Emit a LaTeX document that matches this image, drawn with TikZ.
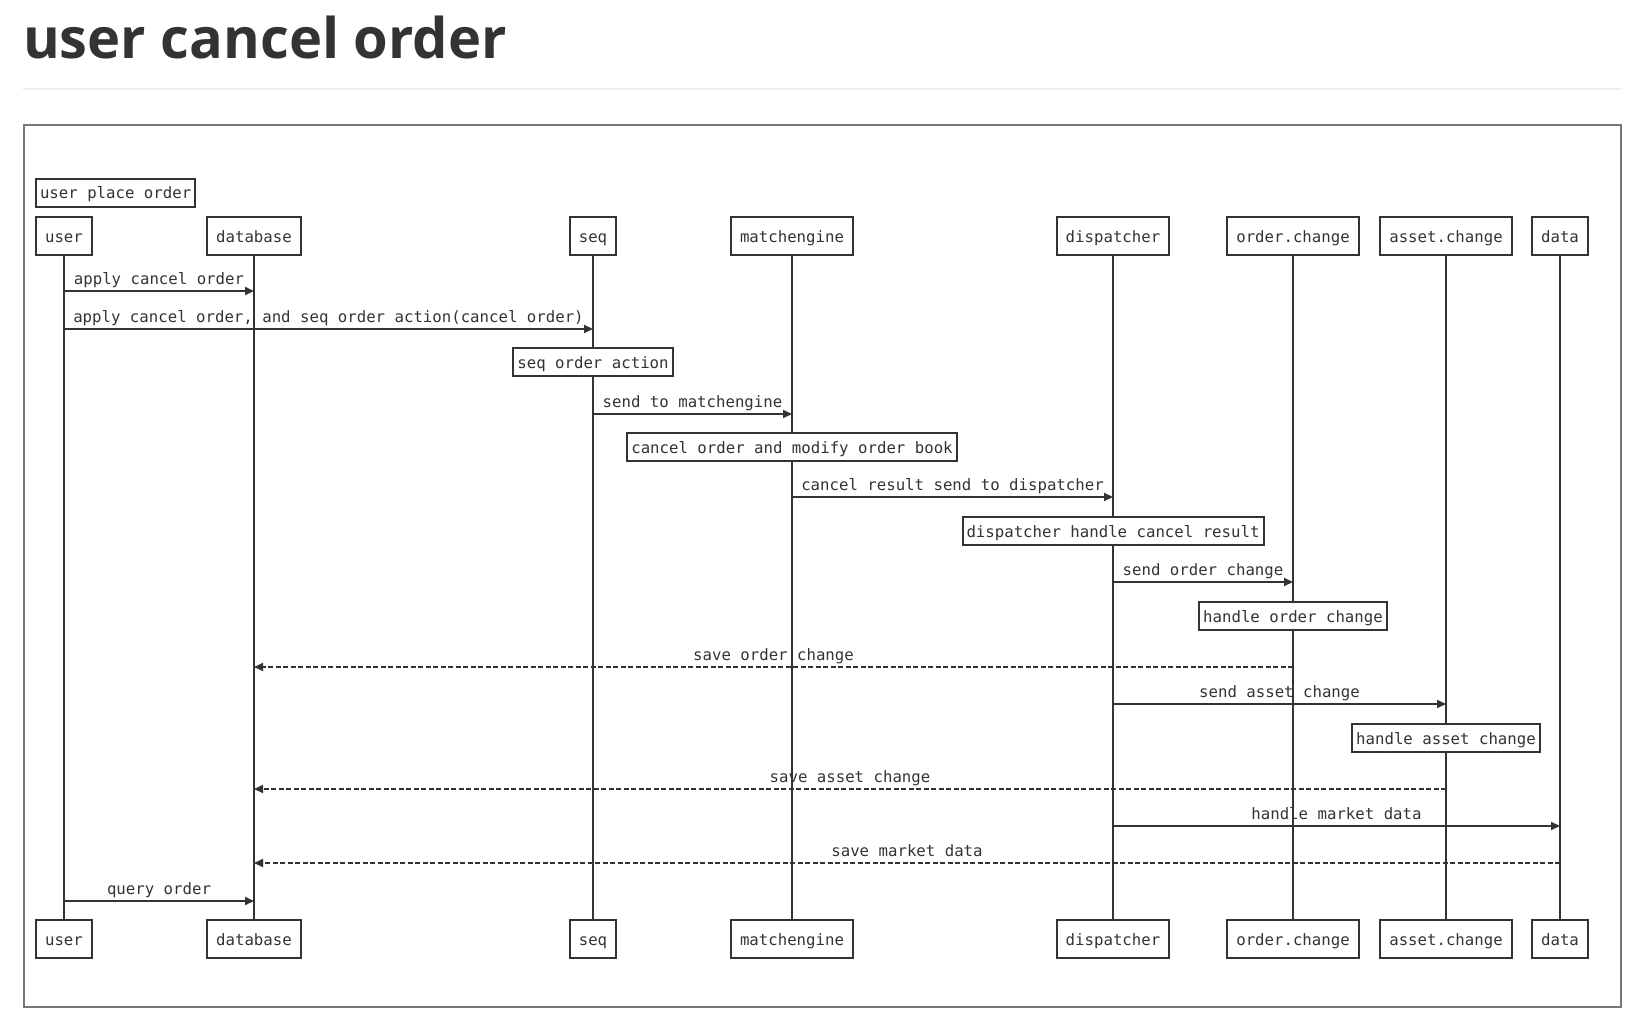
\documentclass[tikz,border=0pt]{standalone}
\usepackage{fontspec}
\setmainfont{Open Sans}
\setmonofont{DejaVu Sans Mono}
\usetikzlibrary{arrows.meta}
\definecolor{ink}{HTML}{333333}
\definecolor{framegray}{HTML}{777777}
\definecolor{rulegray}{HTML}{EEEEEE}
\newcommand{\seqfont}{\ttfamily\fontsize{15.7}{18}\selectfont}
\tikzset{
  actor/.style={draw=ink, line width=2pt, text=ink, font=\seqfont, inner xsep=9pt, inner ysep=0pt, minimum height=38pt, text height=12.5pt, text depth=0.5pt},
  notebox/.style={draw=ink, line width=2pt, fill=white, text=ink, font=\seqfont, inner xsep=4pt, inner ysep=0pt, minimum height=28pt, text height=12.5pt, text depth=0.5pt},
  life/.style={draw=ink, line width=2pt},
  msg/.style={draw=ink, line width=2pt, -{Triangle[length=9pt,width=8pt]}},
  reply/.style={msg, dash pattern=on 5pt off 2.5pt},
  lbl/.style={text=ink, font=\seqfont, above, inner sep=2pt, text height=11.5pt, text depth=3.7pt}
}
\begin{document}
\begin{tikzpicture}[x=1pt, y=-1pt]
    \useasboundingbox (0,0) rectangle (1642,1030);
    % title and frame
    \node[anchor=base west, inner sep=0pt, text=ink, font=\bfseries\fontsize{56}{60}\selectfont] (title) at (23,59) {user cancel order};
    \draw[rulegray, line width=2pt] (23,89) -- (1621,89);
    \draw[framegray, line width=2pt] (24,125) rectangle (1621,1007);

    % participants
    \node[actor] (u)  at (64,236)   {user};
    \node[actor] (db) at (254,236)  {database};
    \node[actor] (sq) at (593,236)  {seq};
    \node[actor] (me) at (792,236)  {matchengine};
    \node[actor] (dp) at (1113,236) {dispatcher};
    \node[actor] (oc) at (1293,236) {order.change};
    \node[actor] (ac) at (1446,236) {asset.change};
    \node[actor] (dt) at (1560,236) {data};
    \node[actor] (u2)  at (u |- 0,939)  {user};
    \node[actor] (db2) at (db |- 0,939) {database};
    \node[actor] (sq2) at (sq |- 0,939) {seq};
    \node[actor] (me2) at (me |- 0,939) {matchengine};
    \node[actor] (dp2) at (dp |- 0,939) {dispatcher};
    \node[actor] (oc2) at (oc |- 0,939) {order.change};
    \node[actor] (ac2) at (ac |- 0,939) {asset.change};
    \node[actor] (dt2) at (dt |- 0,939) {data};
    \node[notebox, anchor=west] (title2) at (35,193) {user place order};

    % lifelines
    \draw[life] (u) -- (u2);
    \draw[life] (db) -- (db2);
    \draw[life] (sq) -- (sq2);
    \draw[life] (me) -- (me2);
    \draw[life] (dp) -- (dp2);
    \draw[life] (oc) -- (oc2);
    \draw[life] (ac) -- (ac2);
    \draw[life] (dt) -- (dt2);

    % messages
    \draw[msg] (u |- 0,291) -- node[lbl] {apply cancel order} (db |- 0,291);
    \draw[msg] (u |- 0,329) -- node[lbl] {apply cancel order, and seq order action(cancel order)} (sq |- 0,329);
    \node[notebox] (n1) at (sq |- 0,362) {seq order action};
    \draw[msg] (sq |- 0,414) -- node[lbl] {send to matchengine} (me |- 0,414);
    \node[notebox] (n2) at (me |- 0,447) {cancel order and modify order book};
    \draw[msg] (me |- 0,497) -- node[lbl] {cancel result send to dispatcher} (dp |- 0,497);
    \node[notebox] (n3) at (dp |- 0,531) {dispatcher handle cancel result};
    \draw[msg] (dp |- 0,582) -- node[lbl] {send order change} (oc |- 0,582);
    \node[notebox] (n4) at (oc |- 0,616) {handle order change};
    \draw[reply] (oc |- 0,667) -- node[lbl] {save order change} (db |- 0,667);
    \draw[msg] (dp |- 0,704) -- node[lbl] {send asset change} (ac |- 0,704);
    \node[notebox] (n5) at (ac |- 0,738) {handle asset change};
    \draw[reply] (ac |- 0,789) -- node[lbl] {save asset change} (db |- 0,789);
    \draw[msg] (dp |- 0,826) -- node[lbl] {handle market data} (dt |- 0,826);
    \draw[reply] (dt |- 0,863) -- node[lbl] {save market data} (db |- 0,863);
    \draw[msg] (u |- 0,901) -- node[lbl] {query order} (db |- 0,901);
\end{tikzpicture}
\end{document}
